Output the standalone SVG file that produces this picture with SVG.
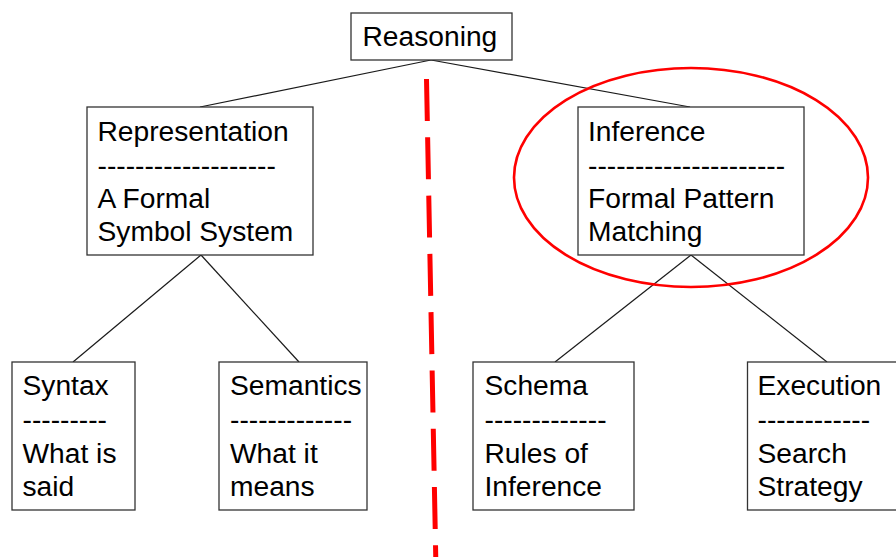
<svg xmlns="http://www.w3.org/2000/svg" width="896" height="557" viewBox="0 0 896 557">
  <style>
    .box { fill: #ffffff; stroke: #333333; stroke-width: 1.3; }
    .link { stroke: #1a1a1a; stroke-width: 1.2; fill: none; }
    .lbl { font-family: "Liberation Sans", Arial, sans-serif; font-size: 28.2px; fill: #000000; }
    .divider { stroke: #ff0000; stroke-width: 5; stroke-dasharray: 42 16.3; fill: none; }
    .focus { stroke: #ff0000; stroke-width: 2.6; fill: none; }
  </style>
  <rect width="896" height="557" fill="#ffffff"/>

  <!-- tree connectors -->
  <g id="connectors">
    <line class="link" x1="431" y1="60" x2="200" y2="107"/>
    <line class="link" x1="431" y1="60" x2="690" y2="107"/>
    <line class="link" x1="201" y1="255" x2="73" y2="362"/>
    <line class="link" x1="201" y1="255" x2="299" y2="362"/>
    <line class="link" x1="691" y1="255" x2="555" y2="362"/>
    <line class="link" x1="691" y1="255" x2="827" y2="362"/>
  </g>

  <g id="reasoning">
    <rect class="box" x="351" y="13" width="161" height="47"/>
    <text class="lbl" x="362.5" y="46">Reasoning</text>
  </g>

  <g id="representation">
    <rect class="box" x="87" y="107" width="226" height="148"/>
    <text class="lbl" x="97.5" y="141">Representation</text>
    <text class="lbl" x="97.5" y="174.5">-------------------</text>
    <text class="lbl" x="97.5" y="208">A Formal</text>
    <text class="lbl" x="97.5" y="241">Symbol System</text>
  </g>

  <g id="inference">
    <rect class="box" x="578" y="107" width="226" height="148"/>
    <text class="lbl" x="588" y="141">Inference</text>
    <text class="lbl" x="588" y="174.5">---------------------</text>
    <text class="lbl" x="588" y="208">Formal Pattern</text>
    <text class="lbl" x="588" y="241">Matching</text>
  </g>

  <g id="syntax">
    <rect class="box" x="12" y="362" width="123" height="148"/>
    <text class="lbl" x="22.5" y="395">Syntax</text>
    <text class="lbl" x="22.5" y="429">---------</text>
    <text class="lbl" x="22.5" y="462.5">What is</text>
    <text class="lbl" x="22.5" y="496">said</text>
  </g>

  <g id="semantics">
    <rect class="box" x="219" y="362" width="148" height="148"/>
    <text class="lbl" x="230" y="395">Semantics</text>
    <text class="lbl" x="230" y="429">-------------</text>
    <text class="lbl" x="230" y="462.5">What it</text>
    <text class="lbl" x="230" y="496">means</text>
  </g>

  <g id="schema">
    <rect class="box" x="473" y="362" width="161" height="148"/>
    <text class="lbl" x="484.5" y="395">Schema</text>
    <text class="lbl" x="484.5" y="429">-------------</text>
    <text class="lbl" x="484.5" y="462.5">Rules of</text>
    <text class="lbl" x="484.5" y="496">Inference</text>
  </g>

  <g id="execution">
    <rect class="box" x="747.5" y="362" width="160" height="148"/>
    <text class="lbl" x="757.5" y="395">Execution</text>
    <text class="lbl" x="757.5" y="429">------------</text>
    <text class="lbl" x="757.5" y="462.5">Search</text>
    <text class="lbl" x="757.5" y="496">Strategy</text>
  </g>

  <!-- highlight ring round the inference node -->
  <ellipse id="inference-highlight" class="focus" cx="691" cy="177.5" rx="177" ry="109.5"/>

  <!-- dashed split between the two halves -->
  <line id="divider" class="divider" x1="426.5" y1="79" x2="436" y2="570"/>
</svg>
